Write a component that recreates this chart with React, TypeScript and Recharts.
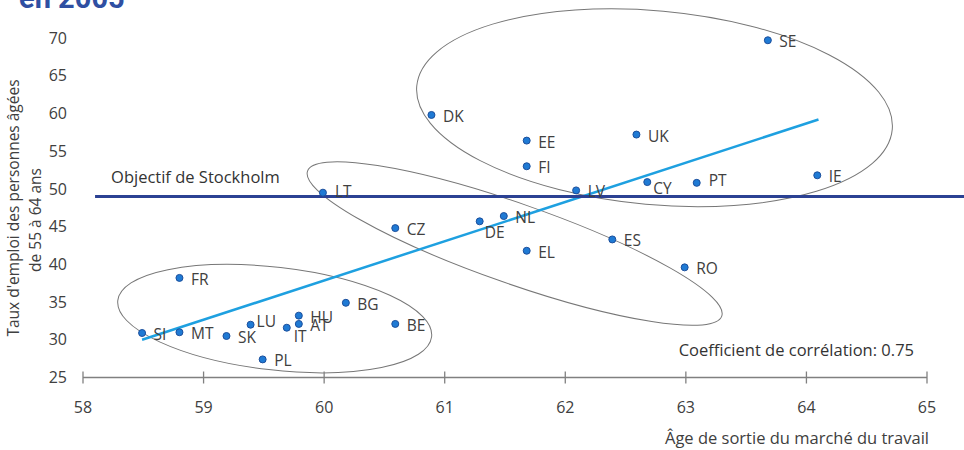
import {
  ScatterChart,
  Scatter,
  XAxis,
  YAxis,
  ReferenceLine,
  ReferenceArea,
  Label,
} from 'recharts';

// pays, âge moyen de sortie, taux d'emploi 55-64 ans (2005)
const countries = ['SE', 'DK', 'EE', 'FI', 'UK', 'IE', 'PT', 'CY', 'LV', 'LT', 'NL', 'DE', 'CZ', 'ES', 'EL', 'RO', 'FR', 'BG', 'HU', 'AT', 'BE', 'LU', 'IT', 'MT', 'SI', 'SK', 'PL'];
const exitAge = [63.68, 60.89, 61.68, 61.68, 62.59, 64.09, 63.09, 62.68, 62.09, 59.99, 61.49, 61.29, 60.59, 62.39, 61.68, 62.99, 58.8, 60.18, 59.79, 59.79, 60.59, 59.39, 59.69, 58.8, 58.49, 59.19, 59.49];
const employmentRate = [69.7, 59.8, 56.4, 53.0, 57.2, 51.8, 50.8, 50.9, 49.8, 49.5, 46.4, 45.7, 44.8, 43.3, 41.8, 39.6, 38.2, 34.9, 33.2, 32.1, 32.1, 32.0, 31.6, 31.0, 30.9, 30.5, 27.4];

// droite de régression
const trendAge = [58.49, 64.1];
const trendRate = [30.0, 59.2];

// objectif de Stockholm
const stockholmTarget = 49;
const stockholmSpan = [58.1, 65.4];

// groupes entourés (centre, demi-axes en unités des axes, inclinaison)
const groupCenterAge = [62.74, 61.58, 59.59];
const groupCenterRate = [60.76, 42.75, 32.81];
const groupHalfAge = [1.98, 1.82, 1.31];
const groupHalfRate = [12.85, 5.3, 6.81];
const groupTilt = [5.2, 19.3, 6.6];

const xTicks = [58, 59, 60, 61, 62, 63, 64, 65];
const yTicks = [25, 30, 35, 40, 45, 50, 55, 60, 65, 70];

const points = countries.map((code, i) => ({ code, age: exitAge[i], rate: employmentRate[i] }));

const labelShift: Record<string, [number, number]> = {
  CY: [6, 6],
  DE: [5, 11],
  IT: [7, 8],
  LU: [6, -4],
  PT: [12, -3],
  LT: [12, -2],
};

const TEXT = '#404040';

const CountryDot = (props: any) => {
  const { cx, cy, payload } = props;
  const [dx, dy] = labelShift[payload.code] ?? [11.5, 1];
  return (
    <g>
      <circle cx={cx} cy={cy} r={3.5} fill="#1f7ad4" stroke="#1c4f9c" strokeWidth={1} />
      <text x={cx + dx} y={cy + dy} dominantBaseline="central" fontSize={15.5} fill={TEXT}>
        {payload.code}
      </text>
    </g>
  );
};

const Ellipse = (props: any) => {
  const { x, y, width, height, tilt } = props;
  const cx = x + width / 2;
  const cy = y + height / 2;
  return (
    <ellipse
      cx={cx}
      cy={cy}
      rx={width / 2}
      ry={height / 2}
      transform={`rotate(${tilt} ${cx} ${cy})`}
      fill="none"
      stroke="#777"
      strokeWidth={1}
    />
  );
};

const XTick = (props: any) => {
  const { x, y, payload } = props;
  return (
    <g>
      <line x1={x} x2={x} y1={y - 6} y2={y + 6} stroke="#808080" strokeWidth={1.3} />
      <text x={x} y={y + 35} textAnchor="middle" fontSize={16} fill={TEXT}>
        {payload.value}
      </text>
    </g>
  );
};

const App = () => {
  return (
    <div style={{ position: 'absolute', left: 0, top: 0, fontFamily: '"Open Sans"' }}>
      <ScatterChart width={964} height={450} margin={{ top: 38, right: 37, bottom: 0, left: 0 }}>
        <text x={19} y={8} fontSize={29} fontWeight="bold" fill="#2f4fa2" fontFamily="Roboto">
          en 2005
        </text>

        <XAxis
          type="number"
          dataKey="age"
          domain={[58, 65]}
          ticks={xTicks}
          height={72.5}
          tickSize={0}
          tickMargin={0}
          tickLine={false}
          axisLine={{ stroke: '#808080', strokeWidth: 1.5 }}
          tick={<XTick />}
        >
          <Label
            content={({ viewBox }: any) => (
              <text x={viewBox.x + viewBox.width + 2} y={viewBox.y + 66} textAnchor="end" fontSize={16.5} fill={TEXT}>
                Âge de sortie du marché du travail
              </text>
            )}
          />
        </XAxis>

        <YAxis
          type="number"
          dataKey="rate"
          domain={[25, 70]}
          ticks={yTicks}
          width={83}
          tickSize={0}
          tickMargin={16}
          tickLine={false}
          axisLine={false}
          tick={{ fontSize: 16, fill: TEXT }}
        >
          <Label
            content={() => (
              <g fontSize={15.5} fill={TEXT}>
                <text x={13} y={208} textAnchor="middle" dominantBaseline="central" transform="rotate(-90 13 208)">
                  Taux d'emploi des personnes âgées
                </text>
                <text x={35} y={220} textAnchor="middle" dominantBaseline="central" transform="rotate(-90 35 220)">
                  de 55 à 64 ans
                </text>
              </g>
            )}
          />
        </YAxis>

        {groupTilt.map((tilt, i) => (
          <ReferenceArea
            key={i}
            x1={groupCenterAge[i] - groupHalfAge[i]}
            x2={groupCenterAge[i] + groupHalfAge[i]}
            y1={groupCenterRate[i] - groupHalfRate[i]}
            y2={groupCenterRate[i] + groupHalfRate[i]}
            ifOverflow="visible"
            shape={(p: any) => <Ellipse {...p} tilt={tilt} />}
          />
        ))}

        <ReferenceLine
          segment={[
            { x: trendAge[0], y: trendRate[0] },
            { x: trendAge[1], y: trendRate[1] },
          ]}
          stroke="#1ea0e0"
          strokeWidth={2.5}
          ifOverflow="visible"
        />

        <Scatter data={points} shape={<CountryDot />} isAnimationActive={false} />

        <ReferenceLine
          segment={[
            { x: stockholmSpan[0], y: stockholmTarget },
            { x: stockholmSpan[1], y: stockholmTarget },
          ]}
          stroke="#2b4193"
          strokeWidth={3}
          ifOverflow="visible"
        >
          <Label
            content={({ viewBox }: any) => (
              <text x={viewBox.x + 16} y={viewBox.y - 13} fontSize={16.5} fill="#333">
                Objectif de Stockholm
              </text>
            )}
          />
        </ReferenceLine>

        <text x={914} y={356} textAnchor="end" fontSize={16.5} fill="#333">
          Coefficient de corrélation: 0.75
        </text>
      </ScatterChart>
    </div>
  );
};

export default App;
